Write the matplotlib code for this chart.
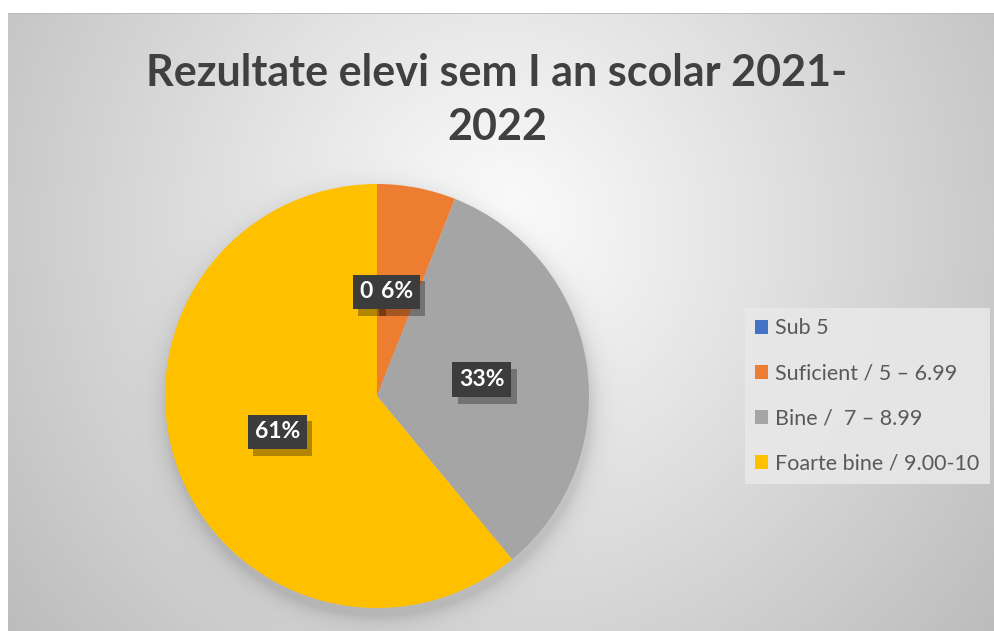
import numpy as np
import matplotlib
matplotlib.use('Agg')
import matplotlib.pyplot as plt
import matplotlib.patheffects as pe

categories = ['Sub 5', 'Suficient / 5 – 6.99', 'Bine /  7 – 8.99', 'Foarte bine / 9.00-10']
values = [0, 6, 33, 61]
value_labels = ['0', '6%', '33%', '61%']
colors = ['#4472C4', '#ED7D31', '#A5A5A5', '#FFC000']
title = 'Rezultate elevi sem I an scolar 2021-\n2022'

W, H = 994, 631
fig = plt.figure(figsize=(W / 100, H / 100), dpi=100)
fig.patch.set_facecolor('white')

# chart area background (radial gradient + soft pie shadow)
x0, y0 = 8, 13
pcx, pcy, pr = 377, 396, 212
bg = fig.add_axes([x0 / W, 0, 1 - x0 / W, 1 - y0 / H])
xx, yy = np.meshgrid(np.arange(x0, W) + 0.5, np.arange(y0, H) + 0.5)
d = np.sqrt(((xx - 500) / 600) ** 2 + ((yy - 230) / 620) ** 2)
val = 253 - 62 * d
dist = np.sqrt((xx - pcx - 2) ** 2 + (yy - pcy - 8) ** 2) - pr
val -= 30 * np.exp(-np.clip(dist, 0, None) / 10.0)
val = np.clip(val, 0, 255) / 255.0
img = np.dstack([val, val, val])
bg.imshow(img, extent=[x0, W, H, y0], aspect='auto', interpolation='bilinear')
bg.plot([x0, W], [y0 + 0.5, y0 + 0.5], color='#b8b8b8', lw=1.2)
bg.set_xlim(x0, W)
bg.set_ylim(H, y0)
bg.axis('off')

# pie
ax = fig.add_axes([(pcx - pr) / W, (H - pcy - pr) / H, 2 * pr / W, 2 * pr / H])
wedges, _ = ax.pie(values, colors=colors, startangle=90, counterclock=False,
                   radius=1, wedgeprops=dict(linewidth=0))
ax.set_xlim(-1, 1)
ax.set_ylim(-1, 1)
ax.axis('off')

shadow = [pe.withSimplePatchShadow(offset=(4, -5), shadow_rgbFace='black', alpha=0.3)]
for w, lab, v in zip(wedges, value_labels, values):
    th = np.deg2rad((w.theta1 + w.theta2) / 2)
    r = 0.5
    x, y = r * np.cos(th), r * np.sin(th)
    if v == 0:
        x -= 0.05
        y -= 0.009
    t = ax.text(x, y, lab, ha='center', va='center', color='white', fontsize=16.5,
                fontweight='bold', family=['Lato', 'DejaVu Sans'],
                bbox=dict(boxstyle='square,pad=0.3', fc='#3c3c3c', ec='none'))
    t.get_bbox_patch().set_path_effects(shadow)

# title
fig.text(497 / W, 1 - 100 / H, title, ha='center', va='center', fontsize=31,
         fontweight='bold', color='#404040', family=['Lato', 'DejaVu Sans'],
         linespacing=1.4)

# legend
fs = 15.5
leg = fig.legend(wedges, categories, loc='upper left',
                 bbox_to_anchor=(745 / W, 1 - 308 / H), borderaxespad=0,
                 frameon=True, fancybox=False,
                 handlelength=0.6, handleheight=0.6, handletextpad=0.33,
                 labelspacing=1.17, borderpad=0.48,
                 prop={'family': ['Lato', 'DejaVu Sans'], 'size': fs})
leg.get_frame().set_facecolor('#e8e8e8')
leg.get_frame().set_edgecolor('none')
leg.get_frame().set_alpha(0.9)
for txt in leg.get_texts():
    txt.set_color('#595959')

fig.savefig('out.png', dpi=100, facecolor='white')
